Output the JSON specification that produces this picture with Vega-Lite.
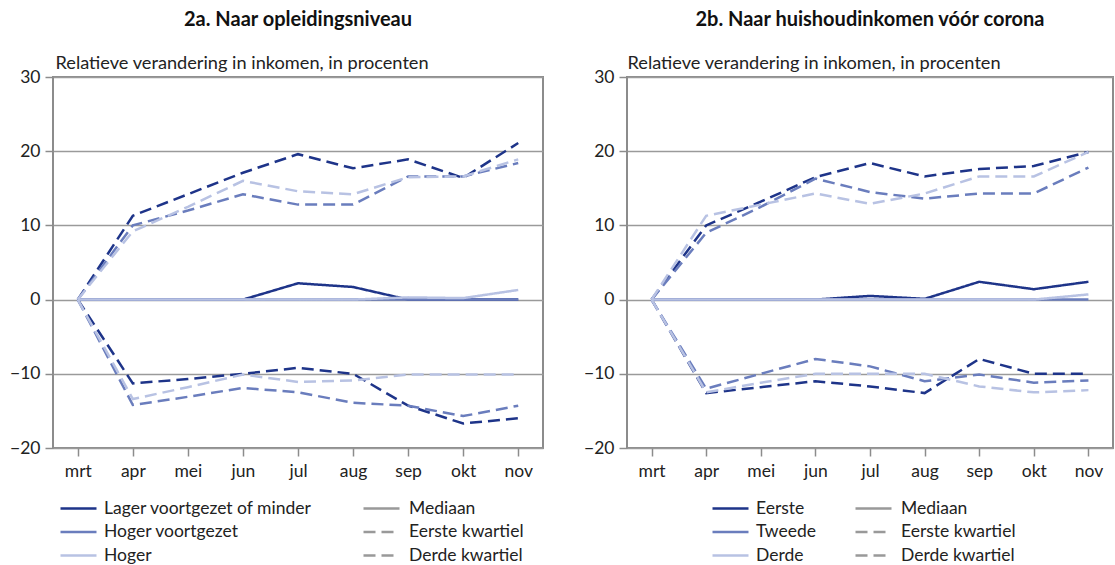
{
  "$schema": "https://vega.github.io/schema/vega-lite/v6.json",
  "autosize": {"type": "pad"},
  "padding": {"left": 8, "top": 9, "right": 0, "bottom": 0},
  "background": "white",
  "bounds": "flush",
  "spacing": 84,
  "config": {
    "font": "Lato",
    "view": {"stroke": "#8c8c8c", "strokeWidth": 2},
    "axis": {
      "labelFont": "Lato", "labelFontSize": 17.5, "labelColor": "#222",
      "tickColor": "#8c8c8c", "tickWidth": 1.5, "tickSize": 8,
      "domain": false, "gridColor": "#9a9a9a", "gridWidth": 1.5,
      "titleFont": "Lato", "titleFontSize": 18.2, "titleFontWeight": "normal", "titleColor": "#222"
    },
    "title": {"font": "Lato", "fontSize": 20, "fontWeight": "bold", "color": "#111", "anchor": "middle", "offset": 23},
    "legend": {
      "orient": "none", "padding": 0, "rowPadding": 1.5, "columns": 1,
      "labelFont": "Lato", "labelFontSize": 17.5, "labelColor": "#222", "labelLimit": 400,
      "symbolSize": 576, "symbolType": "M-1.5,0H1.5", "symbolStrokeWidth": 2.5,
      "labelOffset": 12, "title": null
    }
  },
  "resolve": {"scale": {"color": "independent", "strokeDash": "independent"}},
  "hconcat": [
    {
      "width": 490,
      "height": 371,
      "title": "2a. Naar opleidingsniveau",
      "data": {"values": [
        {"maand":"mrt","groep":"Lager voortgezet of minder","stat":"Mediaan","waarde":0},
        {"maand":"apr","groep":"Lager voortgezet of minder","stat":"Mediaan","waarde":0},
        {"maand":"mei","groep":"Lager voortgezet of minder","stat":"Mediaan","waarde":0},
        {"maand":"jun","groep":"Lager voortgezet of minder","stat":"Mediaan","waarde":0},
        {"maand":"jul","groep":"Lager voortgezet of minder","stat":"Mediaan","waarde":2.2},
        {"maand":"aug","groep":"Lager voortgezet of minder","stat":"Mediaan","waarde":1.7},
        {"maand":"sep","groep":"Lager voortgezet of minder","stat":"Mediaan","waarde":0},
        {"maand":"okt","groep":"Lager voortgezet of minder","stat":"Mediaan","waarde":0},
        {"maand":"nov","groep":"Lager voortgezet of minder","stat":"Mediaan","waarde":0},
        {"maand":"mrt","groep":"Lager voortgezet of minder","stat":"Eerste kwartiel","waarde":0},
        {"maand":"apr","groep":"Lager voortgezet of minder","stat":"Eerste kwartiel","waarde":-11.3},
        {"maand":"mei","groep":"Lager voortgezet of minder","stat":"Eerste kwartiel","waarde":-10.7},
        {"maand":"jun","groep":"Lager voortgezet of minder","stat":"Eerste kwartiel","waarde":-10.0},
        {"maand":"jul","groep":"Lager voortgezet of minder","stat":"Eerste kwartiel","waarde":-9.2},
        {"maand":"aug","groep":"Lager voortgezet of minder","stat":"Eerste kwartiel","waarde":-10.0},
        {"maand":"sep","groep":"Lager voortgezet of minder","stat":"Eerste kwartiel","waarde":-14.3},
        {"maand":"okt","groep":"Lager voortgezet of minder","stat":"Eerste kwartiel","waarde":-16.7},
        {"maand":"nov","groep":"Lager voortgezet of minder","stat":"Eerste kwartiel","waarde":-16.0},
        {"maand":"mrt","groep":"Lager voortgezet of minder","stat":"Derde kwartiel","waarde":0},
        {"maand":"apr","groep":"Lager voortgezet of minder","stat":"Derde kwartiel","waarde":11.3},
        {"maand":"mei","groep":"Lager voortgezet of minder","stat":"Derde kwartiel","waarde":14.2},
        {"maand":"jun","groep":"Lager voortgezet of minder","stat":"Derde kwartiel","waarde":17.1},
        {"maand":"jul","groep":"Lager voortgezet of minder","stat":"Derde kwartiel","waarde":19.6},
        {"maand":"aug","groep":"Lager voortgezet of minder","stat":"Derde kwartiel","waarde":17.7},
        {"maand":"sep","groep":"Lager voortgezet of minder","stat":"Derde kwartiel","waarde":18.9},
        {"maand":"okt","groep":"Lager voortgezet of minder","stat":"Derde kwartiel","waarde":16.4},
        {"maand":"nov","groep":"Lager voortgezet of minder","stat":"Derde kwartiel","waarde":21.1},
        {"maand":"mrt","groep":"Hoger voortgezet","stat":"Mediaan","waarde":0},
        {"maand":"apr","groep":"Hoger voortgezet","stat":"Mediaan","waarde":0},
        {"maand":"mei","groep":"Hoger voortgezet","stat":"Mediaan","waarde":0},
        {"maand":"jun","groep":"Hoger voortgezet","stat":"Mediaan","waarde":0},
        {"maand":"jul","groep":"Hoger voortgezet","stat":"Mediaan","waarde":0},
        {"maand":"aug","groep":"Hoger voortgezet","stat":"Mediaan","waarde":0},
        {"maand":"sep","groep":"Hoger voortgezet","stat":"Mediaan","waarde":0},
        {"maand":"okt","groep":"Hoger voortgezet","stat":"Mediaan","waarde":0},
        {"maand":"nov","groep":"Hoger voortgezet","stat":"Mediaan","waarde":0},
        {"maand":"mrt","groep":"Hoger voortgezet","stat":"Eerste kwartiel","waarde":0},
        {"maand":"apr","groep":"Hoger voortgezet","stat":"Eerste kwartiel","waarde":-14.2},
        {"maand":"mei","groep":"Hoger voortgezet","stat":"Eerste kwartiel","waarde":-13.1},
        {"maand":"jun","groep":"Hoger voortgezet","stat":"Eerste kwartiel","waarde":-11.9},
        {"maand":"jul","groep":"Hoger voortgezet","stat":"Eerste kwartiel","waarde":-12.5},
        {"maand":"aug","groep":"Hoger voortgezet","stat":"Eerste kwartiel","waarde":-13.9},
        {"maand":"sep","groep":"Hoger voortgezet","stat":"Eerste kwartiel","waarde":-14.3},
        {"maand":"okt","groep":"Hoger voortgezet","stat":"Eerste kwartiel","waarde":-15.7},
        {"maand":"nov","groep":"Hoger voortgezet","stat":"Eerste kwartiel","waarde":-14.3},
        {"maand":"mrt","groep":"Hoger voortgezet","stat":"Derde kwartiel","waarde":0},
        {"maand":"apr","groep":"Hoger voortgezet","stat":"Derde kwartiel","waarde":10.0},
        {"maand":"mei","groep":"Hoger voortgezet","stat":"Derde kwartiel","waarde":12.0},
        {"maand":"jun","groep":"Hoger voortgezet","stat":"Derde kwartiel","waarde":14.2},
        {"maand":"jul","groep":"Hoger voortgezet","stat":"Derde kwartiel","waarde":12.8},
        {"maand":"aug","groep":"Hoger voortgezet","stat":"Derde kwartiel","waarde":12.8},
        {"maand":"sep","groep":"Hoger voortgezet","stat":"Derde kwartiel","waarde":16.6},
        {"maand":"okt","groep":"Hoger voortgezet","stat":"Derde kwartiel","waarde":16.6},
        {"maand":"nov","groep":"Hoger voortgezet","stat":"Derde kwartiel","waarde":18.4},
        {"maand":"mrt","groep":"Hoger","stat":"Mediaan","waarde":0},
        {"maand":"apr","groep":"Hoger","stat":"Mediaan","waarde":0},
        {"maand":"mei","groep":"Hoger","stat":"Mediaan","waarde":0},
        {"maand":"jun","groep":"Hoger","stat":"Mediaan","waarde":0},
        {"maand":"jul","groep":"Hoger","stat":"Mediaan","waarde":0},
        {"maand":"aug","groep":"Hoger","stat":"Mediaan","waarde":0},
        {"maand":"sep","groep":"Hoger","stat":"Mediaan","waarde":0.3},
        {"maand":"okt","groep":"Hoger","stat":"Mediaan","waarde":0.2},
        {"maand":"nov","groep":"Hoger","stat":"Mediaan","waarde":1.3},
        {"maand":"mrt","groep":"Hoger","stat":"Eerste kwartiel","waarde":0},
        {"maand":"apr","groep":"Hoger","stat":"Eerste kwartiel","waarde":-13.4},
        {"maand":"mei","groep":"Hoger","stat":"Eerste kwartiel","waarde":-11.8},
        {"maand":"jun","groep":"Hoger","stat":"Eerste kwartiel","waarde":-10.1},
        {"maand":"jul","groep":"Hoger","stat":"Eerste kwartiel","waarde":-11.1},
        {"maand":"aug","groep":"Hoger","stat":"Eerste kwartiel","waarde":-10.9},
        {"maand":"sep","groep":"Hoger","stat":"Eerste kwartiel","waarde":-10.1},
        {"maand":"okt","groep":"Hoger","stat":"Eerste kwartiel","waarde":-10.1},
        {"maand":"nov","groep":"Hoger","stat":"Eerste kwartiel","waarde":-10.1},
        {"maand":"mrt","groep":"Hoger","stat":"Derde kwartiel","waarde":0},
        {"maand":"apr","groep":"Hoger","stat":"Derde kwartiel","waarde":9.2},
        {"maand":"mei","groep":"Hoger","stat":"Derde kwartiel","waarde":12.5},
        {"maand":"jun","groep":"Hoger","stat":"Derde kwartiel","waarde":16.0},
        {"maand":"jul","groep":"Hoger","stat":"Derde kwartiel","waarde":14.6},
        {"maand":"aug","groep":"Hoger","stat":"Derde kwartiel","waarde":14.2},
        {"maand":"sep","groep":"Hoger","stat":"Derde kwartiel","waarde":16.5},
        {"maand":"okt","groep":"Hoger","stat":"Derde kwartiel","waarde":16.6},
        {"maand":"nov","groep":"Hoger","stat":"Derde kwartiel","waarde":18.9}
      ]},
      "mark": {"type": "line", "strokeWidth": 2.5},
      "encoding": {
        "x": {"field": "maand", "type": "ordinal", "sort": ["mrt","apr","mei","jun","jul","aug","sep","okt","nov"],
              "scale": {"type": "point", "padding": 0.45},
              "axis": {"title": null, "labelAngle": 0, "labelPadding": 6, "grid": false}},
        "y": {"field": "waarde", "type": "quantitative",
              "scale": {"domain": [-20, 30], "nice": false, "zero": false},
              "axis": {"values": [-20,-10,0,10,20,30], "labelPadding": 5,
                       "title": "Relatieve verandering in inkomen, in procenten",
                       "titleAngle": 0, "titleAlign": "left", "titleBaseline": "alphabetic",
                       "titleX": 2, "titleY": -9}},
        "color": {"field": "groep", "type": "nominal",
                  "scale": {"domain": ["Lager voortgezet of minder","Hoger voortgezet","Hoger"],
                            "range": ["#1e3489","#6a7dbd","#b8c2e3"]},
                  "legend": {"legendX": 12, "legendY": 418, "symbolDash": [1,0]}},
        "strokeDash": {"field": "stat", "type": "nominal",
                  "scale": {"domain": ["Mediaan","Eerste kwartiel","Derde kwartiel"],
                            "range": [[1,0],[12,6],[12,6]]},
                  "legend": {"legendX": 315, "legendY": 418, "symbolStrokeColor": "#999999", "labelOffset": 14}}
      }
    },
    {
      "width": 486,
      "height": 371,
      "title": "2b. Naar huishoudinkomen vóór corona",
      "data": {"values": [
        {"maand":"mrt","groep":"Eerste","stat":"Mediaan","waarde":0},
        {"maand":"apr","groep":"Eerste","stat":"Mediaan","waarde":0},
        {"maand":"mei","groep":"Eerste","stat":"Mediaan","waarde":0},
        {"maand":"jun","groep":"Eerste","stat":"Mediaan","waarde":0},
        {"maand":"jul","groep":"Eerste","stat":"Mediaan","waarde":0.5},
        {"maand":"aug","groep":"Eerste","stat":"Mediaan","waarde":0.1},
        {"maand":"sep","groep":"Eerste","stat":"Mediaan","waarde":2.4},
        {"maand":"okt","groep":"Eerste","stat":"Mediaan","waarde":1.4},
        {"maand":"nov","groep":"Eerste","stat":"Mediaan","waarde":2.4},
        {"maand":"mrt","groep":"Eerste","stat":"Eerste kwartiel","waarde":0},
        {"maand":"apr","groep":"Eerste","stat":"Eerste kwartiel","waarde":-12.6},
        {"maand":"mei","groep":"Eerste","stat":"Eerste kwartiel","waarde":-11.8},
        {"maand":"jun","groep":"Eerste","stat":"Eerste kwartiel","waarde":-11.0},
        {"maand":"jul","groep":"Eerste","stat":"Eerste kwartiel","waarde":-11.7},
        {"maand":"aug","groep":"Eerste","stat":"Eerste kwartiel","waarde":-12.6},
        {"maand":"sep","groep":"Eerste","stat":"Eerste kwartiel","waarde":-8.0},
        {"maand":"okt","groep":"Eerste","stat":"Eerste kwartiel","waarde":-10.0},
        {"maand":"nov","groep":"Eerste","stat":"Eerste kwartiel","waarde":-10.0},
        {"maand":"mrt","groep":"Eerste","stat":"Derde kwartiel","waarde":0},
        {"maand":"apr","groep":"Eerste","stat":"Derde kwartiel","waarde":10.0},
        {"maand":"mei","groep":"Eerste","stat":"Derde kwartiel","waarde":13.2},
        {"maand":"jun","groep":"Eerste","stat":"Derde kwartiel","waarde":16.5},
        {"maand":"jul","groep":"Eerste","stat":"Derde kwartiel","waarde":18.4},
        {"maand":"aug","groep":"Eerste","stat":"Derde kwartiel","waarde":16.6},
        {"maand":"sep","groep":"Eerste","stat":"Derde kwartiel","waarde":17.6},
        {"maand":"okt","groep":"Eerste","stat":"Derde kwartiel","waarde":18.0},
        {"maand":"nov","groep":"Eerste","stat":"Derde kwartiel","waarde":19.9},
        {"maand":"mrt","groep":"Tweede","stat":"Mediaan","waarde":0},
        {"maand":"apr","groep":"Tweede","stat":"Mediaan","waarde":0},
        {"maand":"mei","groep":"Tweede","stat":"Mediaan","waarde":0},
        {"maand":"jun","groep":"Tweede","stat":"Mediaan","waarde":0},
        {"maand":"jul","groep":"Tweede","stat":"Mediaan","waarde":0},
        {"maand":"aug","groep":"Tweede","stat":"Mediaan","waarde":0},
        {"maand":"sep","groep":"Tweede","stat":"Mediaan","waarde":0},
        {"maand":"okt","groep":"Tweede","stat":"Mediaan","waarde":0},
        {"maand":"nov","groep":"Tweede","stat":"Mediaan","waarde":0},
        {"maand":"mrt","groep":"Tweede","stat":"Eerste kwartiel","waarde":0},
        {"maand":"apr","groep":"Tweede","stat":"Eerste kwartiel","waarde":-12.0},
        {"maand":"mei","groep":"Tweede","stat":"Eerste kwartiel","waarde":-10.0},
        {"maand":"jun","groep":"Tweede","stat":"Eerste kwartiel","waarde":-8.0},
        {"maand":"jul","groep":"Tweede","stat":"Eerste kwartiel","waarde":-9.0},
        {"maand":"aug","groep":"Tweede","stat":"Eerste kwartiel","waarde":-11.0},
        {"maand":"sep","groep":"Tweede","stat":"Eerste kwartiel","waarde":-10.1},
        {"maand":"okt","groep":"Tweede","stat":"Eerste kwartiel","waarde":-11.2},
        {"maand":"nov","groep":"Tweede","stat":"Eerste kwartiel","waarde":-10.9},
        {"maand":"mrt","groep":"Tweede","stat":"Derde kwartiel","waarde":0},
        {"maand":"apr","groep":"Tweede","stat":"Derde kwartiel","waarde":9.0},
        {"maand":"mei","groep":"Tweede","stat":"Derde kwartiel","waarde":12.5},
        {"maand":"jun","groep":"Tweede","stat":"Derde kwartiel","waarde":16.3},
        {"maand":"jul","groep":"Tweede","stat":"Derde kwartiel","waarde":14.5},
        {"maand":"aug","groep":"Tweede","stat":"Derde kwartiel","waarde":13.6},
        {"maand":"sep","groep":"Tweede","stat":"Derde kwartiel","waarde":14.3},
        {"maand":"okt","groep":"Tweede","stat":"Derde kwartiel","waarde":14.3},
        {"maand":"nov","groep":"Tweede","stat":"Derde kwartiel","waarde":17.8},
        {"maand":"mrt","groep":"Derde","stat":"Mediaan","waarde":0},
        {"maand":"apr","groep":"Derde","stat":"Mediaan","waarde":0},
        {"maand":"mei","groep":"Derde","stat":"Mediaan","waarde":0},
        {"maand":"jun","groep":"Derde","stat":"Mediaan","waarde":0},
        {"maand":"jul","groep":"Derde","stat":"Mediaan","waarde":0},
        {"maand":"aug","groep":"Derde","stat":"Mediaan","waarde":0},
        {"maand":"sep","groep":"Derde","stat":"Mediaan","waarde":0},
        {"maand":"okt","groep":"Derde","stat":"Mediaan","waarde":0},
        {"maand":"nov","groep":"Derde","stat":"Mediaan","waarde":0.7},
        {"maand":"mrt","groep":"Derde","stat":"Eerste kwartiel","waarde":0},
        {"maand":"apr","groep":"Derde","stat":"Eerste kwartiel","waarde":-12.5},
        {"maand":"mei","groep":"Derde","stat":"Eerste kwartiel","waarde":-11.2},
        {"maand":"jun","groep":"Derde","stat":"Eerste kwartiel","waarde":-10.0},
        {"maand":"jul","groep":"Derde","stat":"Eerste kwartiel","waarde":-10.0},
        {"maand":"aug","groep":"Derde","stat":"Eerste kwartiel","waarde":-10.0},
        {"maand":"sep","groep":"Derde","stat":"Eerste kwartiel","waarde":-11.7},
        {"maand":"okt","groep":"Derde","stat":"Eerste kwartiel","waarde":-12.5},
        {"maand":"nov","groep":"Derde","stat":"Eerste kwartiel","waarde":-12.2},
        {"maand":"mrt","groep":"Derde","stat":"Derde kwartiel","waarde":0},
        {"maand":"apr","groep":"Derde","stat":"Derde kwartiel","waarde":11.3},
        {"maand":"mei","groep":"Derde","stat":"Derde kwartiel","waarde":12.8},
        {"maand":"jun","groep":"Derde","stat":"Derde kwartiel","waarde":14.3},
        {"maand":"jul","groep":"Derde","stat":"Derde kwartiel","waarde":12.9},
        {"maand":"aug","groep":"Derde","stat":"Derde kwartiel","waarde":14.3},
        {"maand":"sep","groep":"Derde","stat":"Derde kwartiel","waarde":16.6},
        {"maand":"okt","groep":"Derde","stat":"Derde kwartiel","waarde":16.6},
        {"maand":"nov","groep":"Derde","stat":"Derde kwartiel","waarde":19.9}
      ]},
      "mark": {"type": "line", "strokeWidth": 2.5},
      "encoding": {
        "x": {"field": "maand", "type": "ordinal", "sort": ["mrt","apr","mei","jun","jul","aug","sep","okt","nov"],
              "scale": {"type": "point", "padding": 0.45},
              "axis": {"title": null, "labelAngle": 0, "labelPadding": 6, "grid": false}},
        "y": {"field": "waarde", "type": "quantitative",
              "scale": {"domain": [-20, 30], "nice": false, "zero": false},
              "axis": {"values": [-20,-10,0,10,20,30], "labelPadding": 5,
                       "title": "Relatieve verandering in inkomen, in procenten",
                       "titleAngle": 0, "titleAlign": "left", "titleBaseline": "alphabetic",
                       "titleX": 0, "titleY": -9}},
        "color": {"field": "groep", "type": "nominal",
                  "scale": {"domain": ["Eerste","Tweede","Derde"],
                            "range": ["#1e3489","#6a7dbd","#b8c2e3"]},
                  "legend": {"legendX": 90, "legendY": 418, "symbolDash": [1,0]}},
        "strokeDash": {"field": "stat", "type": "nominal",
                  "scale": {"domain": ["Mediaan","Eerste kwartiel","Derde kwartiel"],
                            "range": [[1,0],[12,6],[12,6]]},
                  "legend": {"legendX": 233, "legendY": 418, "symbolStrokeColor": "#999999", "labelOffset": 14}}
      }
    }
  ]
}
